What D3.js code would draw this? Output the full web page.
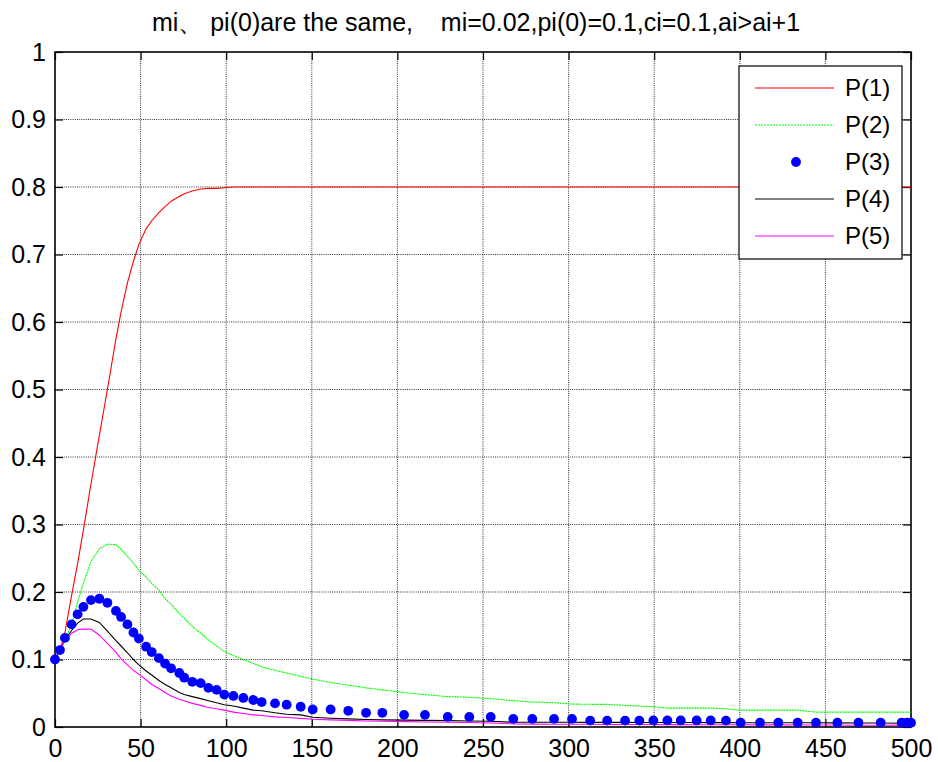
<!DOCTYPE html>
<html>
<head>
<meta charset="utf-8">
<script src="https://cdn.jsdelivr.net/npm/d3@7"></script>
<style>
  body { margin: 0; background: #fff; }
  text { font-family: "Liberation Sans", Arial, sans-serif; fill: #000; }
</style>
</head>
<body>
<script>
// solver output times (shared by all five curves)
var t = [0, 2.9, 5.8, 9.7, 13.2, 16.6, 21, 25.9, 30.6, 35.6, 38.6, 42.3, 45.8, 49, 53.2, 56.5,
  60.7, 64.3, 67.8, 72.6, 75.5, 80.2, 85.1, 89.6, 94.4, 98.9, 104.2, 110, 115.8, 120.7, 128.5, 135.3,
  143.5, 150.5, 161, 171.3, 181.7, 191.2, 203.9, 216.1, 229.4, 242, 254.5, 267.7, 278.8, 291.5, 302, 312.6,
  322.5, 333, 341.3, 349.5, 357.7, 365.5, 374.8, 383, 391.9, 400.5, 411.8, 422.5, 433.8, 444.5, 457, 469.3,
  482.3, 494.5, 497.5, 500];

var p1 = [0.1, 0.113, 0.14, 0.195, 0.242, 0.292, 0.36, 0.432, 0.5, 0.575, 0.615, 0.658, 0.69, 0.715, 0.738, 0.75,
  0.762, 0.771, 0.779, 0.786, 0.79, 0.794, 0.797, 0.798, 0.798, 0.799, 0.8, 0.8, 0.8, 0.8, 0.8, 0.8,
  0.8, 0.8, 0.8, 0.8, 0.8, 0.8, 0.8, 0.8, 0.8, 0.8, 0.8, 0.8, 0.8, 0.8, 0.8, 0.8,
  0.8, 0.8, 0.8, 0.8, 0.8, 0.8, 0.8, 0.8, 0.8, 0.8, 0.8, 0.8, 0.8, 0.8, 0.8, 0.8,
  0.8, 0.8, 0.8, 0.8];

var p2 = [0.1, 0.113, 0.128, 0.152, 0.185, 0.213, 0.245, 0.264, 0.271, 0.27, 0.263, 0.253, 0.243, 0.232, 0.222, 0.213,
  0.203, 0.19, 0.182, 0.168, 0.161, 0.149, 0.139, 0.129, 0.12, 0.112, 0.106, 0.1, 0.094, 0.089, 0.084, 0.08,
  0.075, 0.071, 0.066, 0.062, 0.058, 0.055, 0.051, 0.048, 0.045, 0.044, 0.042, 0.039, 0.037, 0.036, 0.034, 0.0336,
  0.0335, 0.032, 0.031, 0.03, 0.028, 0.028, 0.028, 0.028, 0.027, 0.025, 0.025, 0.025, 0.025, 0.022, 0.022, 0.022,
  0.022, 0.022, 0.022, 0.022];

var p3 = [0.1, 0.114, 0.132, 0.152, 0.167, 0.178, 0.188, 0.19, 0.184, 0.172, 0.163, 0.152, 0.14, 0.131, 0.119, 0.111,
  0.102, 0.094, 0.087, 0.08, 0.073, 0.067, 0.065, 0.058, 0.055, 0.048, 0.046, 0.043, 0.04, 0.037, 0.035, 0.033,
  0.03, 0.026, 0.026, 0.024, 0.021, 0.021, 0.018, 0.018, 0.015, 0.015, 0.015, 0.012, 0.012, 0.012, 0.012, 0.0094,
  0.0094, 0.0094, 0.0094, 0.0097, 0.0097, 0.0097, 0.0097, 0.0097, 0.0094, 0.0064, 0.0064, 0.0064, 0.0064, 0.0064, 0.0064, 0.0064,
  0.0064, 0.0064, 0.0064, 0.0064];

var p4 = [0.1, 0.115, 0.129, 0.143, 0.154, 0.16, 0.16, 0.155, 0.142, 0.128, 0.12, 0.11, 0.1, 0.092, 0.083, 0.077,
  0.069, 0.063, 0.058, 0.051, 0.048, 0.045, 0.042, 0.039, 0.036, 0.033, 0.031, 0.028, 0.025, 0.024, 0.021, 0.019,
  0.018, 0.0145, 0.013, 0.012, 0.011, 0.0105, 0.0102, 0.0098, 0.0094, 0.009, 0.0085, 0.007, 0.007, 0.007, 0.007, 0.0068,
  0.0068, 0.0068, 0.0067, 0.0067, 0.0066, 0.0066, 0.0066, 0.0065, 0.0065, 0.0064, 0.0064, 0.0063, 0.0062, 0.0062, 0.0061, 0.006,
  0.006, 0.0055, 0.0055, 0.0055];

var p5 = [0.1, 0.115, 0.128, 0.139, 0.144, 0.145, 0.145, 0.136, 0.124, 0.111, 0.101, 0.092, 0.084, 0.078, 0.07, 0.063,
  0.057, 0.051, 0.046, 0.041, 0.039, 0.035, 0.032, 0.029, 0.027, 0.025, 0.022, 0.02, 0.018, 0.017, 0.015, 0.014,
  0.0128, 0.0114, 0.0105, 0.0098, 0.009, 0.0085, 0.0079, 0.0075, 0.007, 0.0066, 0.006, 0.0045, 0.0042, 0.004, 0.004, 0.004,
  0.0038, 0.0037, 0.0036, 0.0036, 0.0035, 0.0035, 0.0034, 0.0034, 0.0033, 0.0033, 0.0032, 0.0031, 0.003, 0.003, 0.0029, 0.0027,
  0.0025, 0.0028, 0.0028, 0.0028];

var xTicks = [0, 50, 100, 150, 200, 250, 300, 350, 400, 450, 500];
var yTicks = [0, 0.1, 0.2, 0.3, 0.4, 0.5, 0.6, 0.7, 0.8, 0.9, 1];
var legendNames = ["P(1)", "P(2)", "P(3)", "P(4)", "P(5)"];
var titleText = "mi\u3001 pi(0)are the same,    mi=0.02,pi(0)=0.1,ci=0.1,ai>ai+1";

var width = 938,
    height = 762,
    mLeft = 55, mRight = 911, mTop = 52, mBottom = 727;

var svg = d3.select("body").append("svg")
    .attr("width", width)
    .attr("height", height);

var x = d3.scaleLinear().domain([0, 500]).range([mLeft, mRight]);
var y = d3.scaleLinear().domain([0, 1]).range([mBottom, mTop]);

// grid (matlab dotted)
svg.append("g").selectAll("line")
    .data(xTicks.slice(1, -1))
    .enter().append("line")
    .attr("x1", d => x(d)).attr("x2", d => x(d))
    .attr("y1", mTop).attr("y2", mBottom)
    .attr("stroke", "#333").attr("stroke-width", 1).attr("stroke-dasharray", "1,1.2");
svg.append("g").selectAll("line")
    .data(yTicks.slice(1, -1))
    .enter().append("line")
    .attr("y1", d => y(d)).attr("y2", d => y(d))
    .attr("x1", mLeft).attr("x2", mRight)
    .attr("stroke", "#333").attr("stroke-width", 1).attr("stroke-dasharray", "1,1.2");

// axes, box style with inward ticks
var axB = d3.axisBottom(x).tickValues(xTicks).tickSize(-8).tickPadding(12).tickFormat(d3.format("d"));
var axT = d3.axisTop(x).tickValues(xTicks).tickSize(-8).tickFormat("");
var axL = d3.axisLeft(y).tickValues(yTicks).tickSize(-8).tickPadding(9).tickFormat(d => String(+d.toFixed(1)));
var axR = d3.axisRight(y).tickValues(yTicks).tickSize(-8).tickFormat("");

function styleAxis(g) {
  g.select(".domain").remove();
  g.selectAll(".tick line").attr("stroke", "#000").attr("stroke-width", 1.2);
  g.selectAll("text").attr("font-size", 25).attr("font-family", "Liberation Sans, Arial, sans-serif");
}
svg.append("g").attr("transform", "translate(0," + mBottom + ")").call(axB).call(styleAxis);
svg.append("g").attr("transform", "translate(0," + mTop + ")").call(axT).call(styleAxis);
svg.append("g").attr("transform", "translate(" + mLeft + ",0)").call(axL).call(styleAxis);
svg.append("g").attr("transform", "translate(" + mRight + ",0)").call(axR).call(styleAxis);

svg.append("rect")
    .attr("x", mLeft).attr("y", mTop)
    .attr("width", mRight - mLeft).attr("height", mBottom - mTop)
    .attr("fill", "none").attr("stroke", "#000").attr("stroke-width", 1.6);

// curves
var line = d3.line().x(d => x(d[0])).y(d => y(d[1]));
function pairs(vals) { return t.map((tt, i) => [tt, vals[i]]); }

var lineSeries = [
  { vals: p1, color: "#ff0000", dash: null },
  { vals: p2, color: "#00ff00", dash: "2,0.7" },
  { vals: p4, color: "#000000", dash: null },
  { vals: p5, color: "#ff00ff", dash: null }
];
svg.append("g").selectAll("path")
    .data(lineSeries)
    .enter().append("path")
    .attr("d", d => line(pairs(d.vals)))
    .attr("fill", "none")
    .attr("stroke", d => d.color)
    .attr("stroke-width", 1.1)
    .attr("stroke-dasharray", d => d.dash);

svg.append("g").selectAll("circle")
    .data(pairs(p3))
    .enter().append("circle")
    .attr("cx", d => x(d[0]))
    .attr("cy", d => y(d[1]))
    .attr("r", 4.9)
    .attr("fill", "#0000ff");

// title
svg.append("text")
    .attr("x", 476).attr("y", 31)
    .attr("text-anchor", "middle")
    .attr("font-size", 25)
    .style("white-space", "pre")
    .text(titleText);

// legend
var lg = svg.append("g");
lg.append("rect")
    .attr("x", 739).attr("y", 66)
    .attr("width", 163).attr("height", 193)
    .attr("fill", "#fff").attr("stroke", "#000").attr("stroke-width", 1.2);

var legendColors = ["#ff0000", "#00ff00", "#0000ff", "#000000", "#ff00ff"];
var ly = d3.scalePoint().domain(legendNames).range([88, 236]);
legendNames.forEach(function(name, i) {
  var yy = ly(name);
  if (i == 2) {
    lg.append("circle").attr("cx", 796).attr("cy", yy).attr("r", 4.9).attr("fill", legendColors[i]);
  } else {
    lg.append("line")
      .attr("x1", 755).attr("x2", 834).attr("y1", yy).attr("y2", yy)
      .attr("stroke", legendColors[i]).attr("stroke-width", 1.1)
      .attr("stroke-dasharray", i == 1 ? "2,1" : null);
  }
  lg.append("text")
    .attr("x", 845).attr("y", yy + 8)
    .attr("font-size", 24)
    .text(name);
});
</script>
</body>
</html>
